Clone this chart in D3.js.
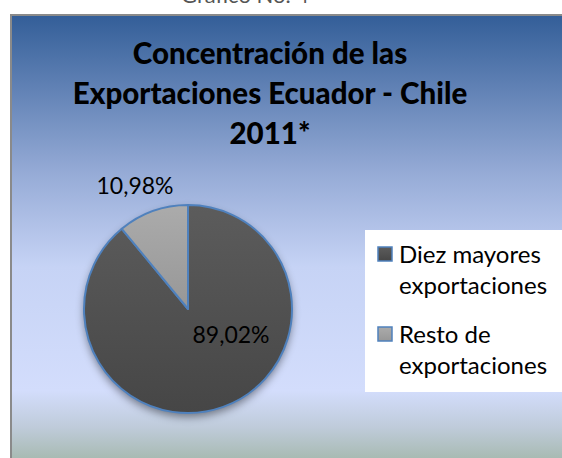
<!DOCTYPE html>
<html>
<head>
<meta charset="utf-8">
<script src="https://cdn.jsdelivr.net/npm/d3@7"></script>
<style>
  body { margin: 0; background: #fff; }
  svg { display: block; }
</style>
</head>
<body>
<div id="chart"></div>
<script>
var categories = ["Diez mayores exportaciones", "Resto de exportaciones"];
var legendLines = [["Diez mayores", "exportaciones"], ["Resto de", "exportaciones"]];
var values = [89.02, 10.98];
var valueLabels = ["89,02%", "10,98%"];
var titleLines = ["Concentración de las", "Exportaciones Ecuador - Chile", "2011*"];

var width = 562, height = 458;
var font = "Lato, 'Open Sans', sans-serif";

var svg = d3.select("#chart").append("svg")
  .attr("width", width)
  .attr("height", height);

var defs = svg.append("defs");

var bg = defs.append("linearGradient")
  .attr("id", "bg").attr("x1", 0).attr("y1", 0).attr("x2", 0).attr("y2", 1);
[[0, "#335e98"], [0.35, "#97acd7"], [0.55, "#c6d3f5"], [0.82, "#d3ddfc"], [0.9, "#bfcbda"], [1, "#9db3a0"]]
  .forEach(function(s) { bg.append("stop").attr("offset", s[0]).attr("stop-color", s[1]); });

var fills = [["#5c5c5c", "#464646"], ["#ababab", "#979797"]];
fills.forEach(function(f, i) {
  var g = defs.append("linearGradient")
    .attr("id", "slice" + i).attr("x1", 0).attr("y1", 0).attr("x2", 0).attr("y2", 1);
  g.append("stop").attr("offset", 0).attr("stop-color", f[0]);
  g.append("stop").attr("offset", 1).attr("stop-color", f[1]);
});

var shadow = defs.append("filter").attr("id", "shadow")
  .attr("x", "-20%").attr("y", "-20%").attr("width", "140%").attr("height", "140%");
shadow.append("feDropShadow")
  .attr("dx", 0).attr("dy", 4).attr("stdDeviation", 4)
  .attr("flood-color", "#000").attr("flood-opacity", 0.45);

// caption above the frame, cut off like in the original
svg.append("text")
  .attr("x", 245).attr("y", 3)
  .attr("text-anchor", "middle")
  .style("font-family", font).style("font-size", "22px").style("fill", "#555")
  .text("Gráfico No. 4");

// frame
svg.append("rect")
  .attr("x", 11).attr("y", 15)
  .attr("width", width).attr("height", height)
  .attr("fill", "url(#bg)")
  .attr("stroke", "#8a8a8a").attr("stroke-width", 2);

// title
svg.append("text")
  .attr("text-anchor", "middle")
  .style("font-family", font).style("font-weight", "900").style("font-size", "29.5px")
  .selectAll("tspan").data(titleLines).enter().append("tspan")
  .attr("x", 270)
  .attr("y", function(d, i) { return 64 + i * 40; })
  .text(function(d) { return d; });

// pie
var cx = 188, cy = 309, r = 104;
var pie = d3.pie().sort(null)(values);
var arc = d3.arc().innerRadius(0).outerRadius(r);

var pieG = svg.append("g").attr("transform", "translate(" + cx + "," + cy + ")");
pieG.append("circle").attr("r", r).attr("fill", "#555").attr("filter", "url(#shadow)");
pieG.selectAll("path").data(pie).enter().append("path")
  .attr("d", arc)
  .attr("fill", function(d, i) { return "url(#slice" + i + ")"; })
  .attr("stroke", "#4f81bd").attr("stroke-width", 2)
  .attr("stroke-linejoin", "round");

var labelPos = [[43, 34], [-53, -115]];
pieG.selectAll("text.lbl").data(pie).enter().append("text")
  .attr("class", "lbl")
  .attr("x", function(d, i) { return labelPos[i][0]; })
  .attr("y", function(d, i) { return labelPos[i][1]; })
  .attr("text-anchor", "middle")
  .style("font-family", font).style("font-size", "23px").style("fill", "#000")
  .text(function(d, i) { return valueLabels[i]; });

// legend
var legend = svg.append("g");
legend.append("rect")
  .attr("x", 365).attr("y", 230).attr("width", 200).attr("height", 162)
  .attr("fill", "#fff");

var item = legend.selectAll("g.item").data(categories).enter().append("g")
  .attr("class", "item")
  .attr("transform", function(d, i) { return "translate(378," + (247 + i * 80) + ")"; });
item.append("rect")
  .attr("width", 14).attr("height", 14)
  .attr("fill", function(d, i) { return "url(#slice" + i + ")"; })
  .attr("stroke", "#4f81bd").attr("stroke-width", 1.5);
item.append("text")
  .style("font-family", font).style("font-size", "24px").style("fill", "#000")
  .selectAll("tspan").data(function(d, i) { return legendLines[i]; }).enter().append("tspan")
  .attr("x", 21)
  .attr("y", function(d, j) { return 16 + j * 31; })
  .text(function(d) { return d; });
</script>
</body>
</html>
